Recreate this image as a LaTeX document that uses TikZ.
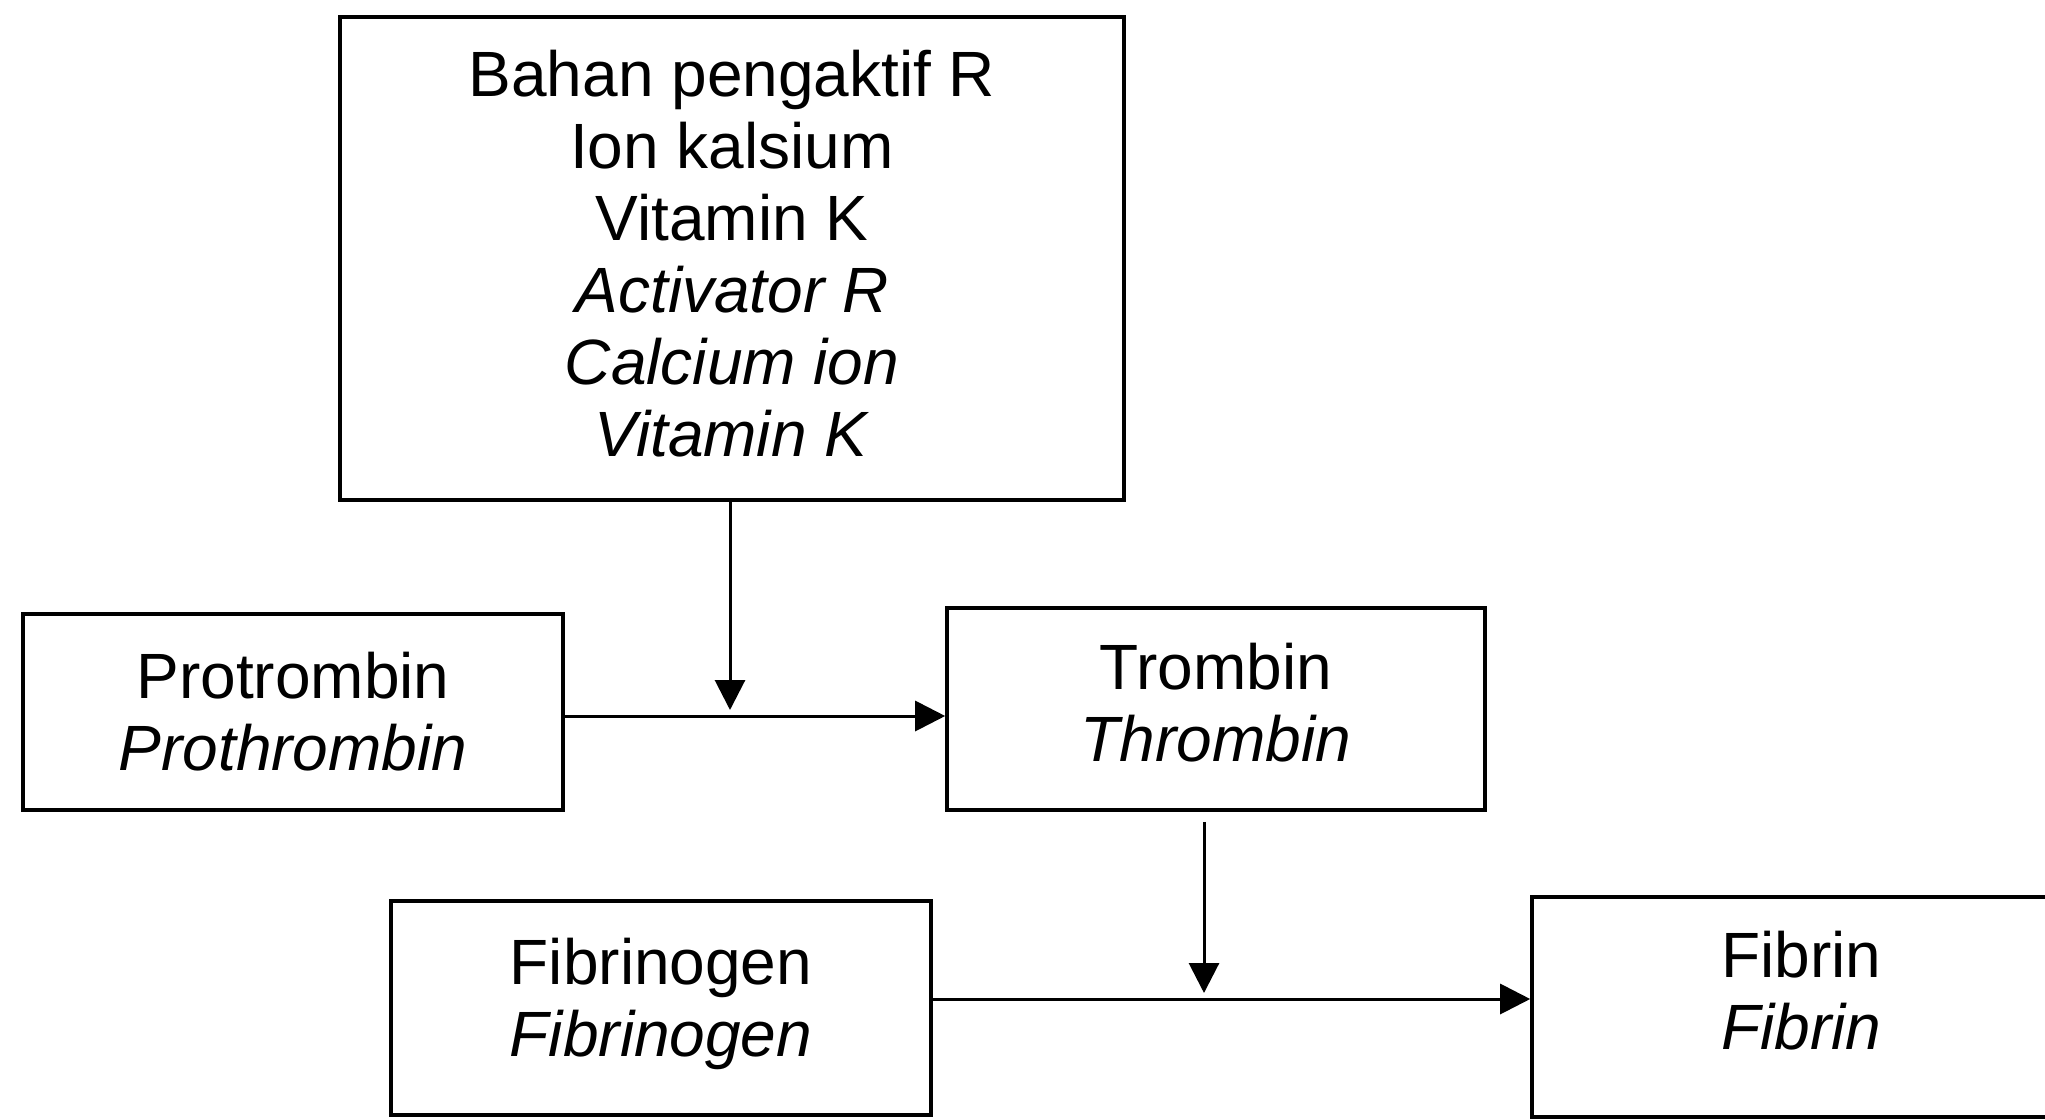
\documentclass[tikz,border=0pt]{standalone}
\usepackage{fontspec}
\setmainfont{Liberation Sans}
\usepackage{tikz}
\usetikzlibrary{arrows.meta}
\tikzset{>={Triangle[length=15pt,width=15pt]}}
\tikzstyle{box}=[draw,line width=1.8pt,align=center,inner sep=0pt,
  font=\fontsize{32}{36}\selectfont]
\tikzstyle{flow}=[->,line width=1.5pt]
\newcommand{\en}[1]{\textit{#1}}

\begin{document}
\begin{tikzpicture}[x=0.5pt,y=-0.5pt]
  \useasboundingbox (0,0) rectangle (2045,1119);
  \node[box,minimum width=392pt,minimum height=241.5pt,text depth=5pt] (act) at (732,258.5)
    {Bahan pengaktif R\\Ion kalsium\\Vitamin K\\\en{Activator R}\\\en{Calcium ion}\\\en{Vitamin K}};
  \node[box,minimum width=270pt,minimum height=98pt] (pro) at (293,712)
    {Protrombin\\\en{Prothrombin}};
  \node[box,minimum width=269pt,minimum height=101pt,text depth=6.5pt] (trom) at (1216,709)
    {Trombin\\\en{Thrombin}};
  \node[box,minimum width=270pt,minimum height=107pt,text depth=10.7pt] (fgen) at (661,1008)
    {Fibrinogen\\\en{Fibrinogen}};
  \node[box,minimum width=269.5pt,minimum height=110pt,text depth=17pt] (fib) at (1801.5,1007)
    {Fibrin\\\en{Fibrin}};
  \coordinate (j1) at (730,716);
  \coordinate (j2) at (1204,999);
  \draw[flow] (pro.east |- j1) -- (j1 -| trom.west);
  \draw[flow,shorten >=3pt] (act.south -| j1) -- (j1);
  \draw[flow] (fgen.east |- j2) -- (j2 -| fib.west);
  \draw[flow,shorten <=5pt,shorten >=3pt] (trom.south -| j2) -- (j2);
\end{tikzpicture}
\end{document}
